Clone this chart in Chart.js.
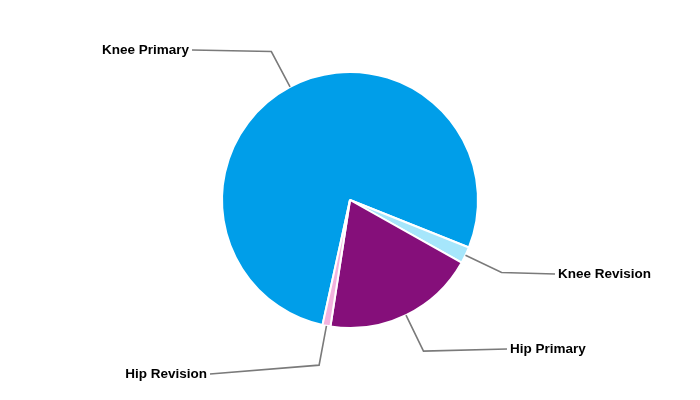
<!DOCTYPE html>
<html lang="en">
<head>
    <title></title>
    <script src="https://cdn.jsdelivr.net/npm/chart.js"></script>
    <style>
        body { margin: 0; background: #fff; }
        #wrap { width: 700px; height: 400px; }
    </style>
</head>
<body>
<div id="wrap">
    <canvas id="myChart" width="700" height="400"></canvas>
</div>
<script>
    // data (share in %)
    const categories = ['Knee Primary', 'Knee Revision', 'Hip Primary', 'Hip Revision'];
    const shares = [77.6, 2.1, 19.3, 1.0];
    const colours = ['#009ee9', '#a6e6fb', '#850f7a', '#f3b3df'];

    // where each label's leader line ends, relative to the pie centre
    const labelAnchors = [[-158, -150], [205, 74], [157, 149], [-140, 174]];

    const leaderLines = {
        id: 'leaderLines',
        afterDatasetsDraw(chart) {
            const ctx = chart.ctx;
            const arcs = chart.getDatasetMeta(0).data;
            ctx.save();
            ctx.font = 'bold 13.5px "Liberation Sans", Arial, sans-serif';
            ctx.textBaseline = 'middle';
            arcs.forEach((arc, i) => {
                const p = arc.getProps(['x', 'y', 'startAngle', 'endAngle', 'outerRadius'], true);
                const mid = (p.startAngle + p.endAngle) / 2;
                const cx = Math.cos(mid), cy = Math.sin(mid);
                const x1 = p.x + cx * p.outerRadius, y1 = p.y + cy * p.outerRadius;
                const x2 = p.x + cx * (p.outerRadius + 40), y2 = p.y + cy * (p.outerRadius + 40);
                const x3 = p.x + labelAnchors[i][0], y3 = p.y + labelAnchors[i][1];

                ctx.strokeStyle = '#7a7a7a';
                ctx.lineWidth = 1.6;
                ctx.beginPath();
                ctx.moveTo(x1, y1);
                ctx.lineTo(x2, y2);
                ctx.lineTo(x3, y3);
                ctx.stroke();

                ctx.fillStyle = '#000';
                if (x3 < p.x) {
                    ctx.textAlign = 'right';
                    ctx.fillText(categories[i], x3 - 3, y3);
                } else {
                    ctx.textAlign = 'left';
                    ctx.fillText(categories[i], x3 + 3, y3);
                }
            });
            ctx.restore();
        }
    };

    const ctx = document.getElementById('myChart').getContext('2d');
    const chart = new Chart(ctx, {
        type: 'pie',
        data: {
            labels: categories,
            datasets: [
                {
                    data: shares,
                    backgroundColor: colours,
                    borderColor: '#ffffff',
                    borderWidth: 2,
                    radius: 128,
                },
            ],
        },
        options: {
            responsive: false,
            animation: false,
            rotation: 192.4,
            plugins: {
                legend: { display: false },
                tooltip: { enabled: false },
            },
        },
        plugins: [leaderLines],
    });
</script>
</body>
</html>
